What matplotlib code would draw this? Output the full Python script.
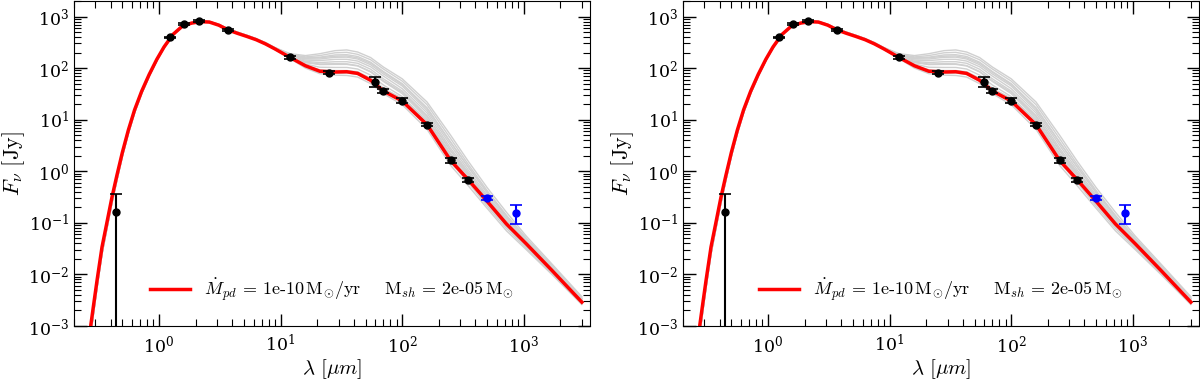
import matplotlib
matplotlib.use("Agg")
import matplotlib.pyplot as plt
from matplotlib.ticker import LogLocator, NullFormatter

plt.rcParams['mathtext.fontset'] = 'cm'
plt.rcParams['font.family'] = ['DejaVu Serif']

# Observed photometry
obs_wl = [0.44, 1.22, 1.6, 2.15, 3.7, 12, 25, 60, 70, 100, 160, 250, 350]
obs_flux = [0.16, 393, 712, 826, 546, 161, 81.5, 54.6, 35.6, 23.4, 8.0, 1.62, 0.685]
obs_err = [0.2, 15, 25, 30, 30, 8, 6, 12, 3, 2.5, 0.6, 0.15, 0.07]
sub_wl = [500, 870]
sub_flux = [0.30, 0.157]
sub_err = [0.025, 0.062]

# Model wavelength grids (short: stellar part, long: dust part)
short_wl = [0.27, 0.29, 0.31, 0.34, 0.37, 0.41, 0.45, 0.5, 0.56, 0.63, 0.72, 0.83,
            0.96, 1.1, 1.3, 1.55, 1.85, 2.2, 2.6, 3.1, 3.7, 4.4, 5.3, 6.3]
long_wl = [7.5, 9, 12, 16, 21, 28, 35, 43, 55, 70, 100, 160, 250, 350, 500, 720,
           1050, 1700, 3000]

# Best-fit model (red)
best_short = [7.6e-4, 0.00258, 0.0079, 0.034, 0.092, 0.31, 0.82, 2.33, 6.3, 15.5, 35.5,
              75, 148, 257, 447, 646, 745, 795, 780, 680, 550, 474, 410, 355]
best_long = [295, 235, 160, 111, 87, 84, 85, 79, 58, 36, 23, 8, 1.62, 0.68, 0.26, 0.095,
             0.039, 0.012, 0.0029]

# Other models of the grid (gray): stellar-part variants
gray_short_a = [5.2e-4, 0.0018, 0.0057, 0.025, 0.07, 0.24, 0.66, 1.95, 5.4, 13.6, 32, 69,
                140, 247, 436, 640, 748, 805, 795, 700, 570, 492, 425, 368]
gray_short_b = [6.5e-4, 0.0022, 0.0069, 0.030, 0.082, 0.28, 0.74, 2.15, 5.9, 14.6, 34, 72,
                144, 252, 442, 644, 748, 802, 790, 692, 562, 485, 418, 362]
gray_short_c = [5.8e-4, 0.002, 0.0063, 0.027, 0.076, 0.26, 0.70, 2.05, 5.65, 14.1, 33, 70.5,
                142, 250, 440, 642, 750, 808, 800, 705, 578, 498, 430, 372]

# dust-part of each gray model
gray_long_1 = [315, 250, 190, 175, 190, 218, 225, 205, 160, 105, 62, 22, 5.0, 1.55, 0.48, 0.16, 0.055, 0.016, 0.0037]
gray_long_2 = [312, 248, 185, 165, 175, 198, 202, 185, 145, 96, 56, 19.5, 4.3, 1.35, 0.42, 0.14, 0.05, 0.015, 0.0035]
gray_long_3 = [310, 245, 180, 158, 163, 180, 182, 168, 130, 86, 50, 17, 3.7, 1.2, 0.38, 0.13, 0.047, 0.014, 0.0034]
gray_long_4 = [308, 243, 176, 150, 150, 162, 163, 150, 116, 77, 45, 15, 3.2, 1.05, 0.34, 0.12, 0.044, 0.0135, 0.0033]
gray_long_5 = [305, 240, 172, 143, 140, 148, 148, 137, 106, 70, 40, 13.5, 2.8, 0.95, 0.31, 0.11, 0.042, 0.013, 0.0032]
gray_long_6 = [303, 238, 168, 135, 128, 133, 133, 124, 95, 62, 36, 12, 2.5, 0.87, 0.29, 0.10, 0.040, 0.0125, 0.0031]
gray_long_7 = [302, 236, 165, 128, 117, 118, 118, 110, 84, 55, 32, 10.5, 2.2, 0.8, 0.27, 0.095, 0.038, 0.012, 0.003]
gray_long_8 = [300, 234, 162, 120, 104, 103, 103, 96, 73, 47, 28, 9.5, 1.95, 0.73, 0.25, 0.09, 0.036, 0.0115, 0.0029]
gray_long_9 = [299, 233, 158, 112, 93, 90, 90, 85, 64, 41, 25, 8.6, 1.75, 0.66, 0.23, 0.085, 0.034, 0.011, 0.0028]
gray_long_10 = [297, 231, 155, 106, 84, 80, 80, 75, 56, 36, 22, 7.6, 1.5, 0.6, 0.21, 0.078, 0.032, 0.0105, 0.0027]
gray_long_11 = [295, 229, 152, 100, 78, 73, 72, 67, 50, 32, 19.5, 6.5, 1.3, 0.52, 0.19, 0.07, 0.030, 0.0100, 0.0026]
gray_long_12 = [298, 232, 158, 110, 90, 86, 86, 80, 62, 40, 26, 9.5, 2.1, 0.85, 0.30, 0.105, 0.041, 0.0125, 0.003]
gray_long_13 = [306, 242, 178, 155, 158, 170, 172, 158, 124, 83, 48, 16.5, 3.6, 1.2, 0.39, 0.135, 0.049, 0.0145, 0.0034]
gray_long_14 = [302, 237, 166, 130, 120, 122, 121, 112, 86, 57, 34, 11.5, 2.5, 0.9, 0.30, 0.105, 0.041, 0.0125, 0.0031]

gray_longs = [gray_long_1, gray_long_2, gray_long_3, gray_long_4, gray_long_5,
              gray_long_6, gray_long_7, gray_long_8, gray_long_9, gray_long_10,
              gray_long_11, gray_long_12, gray_long_13, gray_long_14]
gray_shorts = [gray_short_a, gray_short_b, gray_short_c]

legend_label = (r'$\dot{M}_{pd}\,=\,\mathrm{1e}\text{-}\mathrm{10}\,\mathrm{M}_{\odot}/\mathrm{yr}'
                r'\quad\;\; \mathrm{M}_{sh}\,=\,\mathrm{2e}\text{-}\mathrm{05}\,\mathrm{M}_{\odot}$')

fig = plt.figure(figsize=(12, 3.82), dpi=100)
W, H = 1200.0, 382.0
axes = [fig.add_axes([74 / W, (H - 326) / H, 516 / W, 325 / H]),
        fig.add_axes([683 / W, (H - 326) / H, 516 / W, 325 / H])]

model_wl = short_wl + long_wl
for ax in axes:
    for i, gl in enumerate(gray_longs):
        gs = gray_shorts[i % len(gray_shorts)]
        ax.plot(model_wl, gs + gl, color='#d0d0d0', lw=1.0, zorder=1)
    ax.plot(model_wl, best_short + best_long, color='red', lw=2.5, zorder=3,
            label=legend_label)
    ax.errorbar(obs_wl, obs_flux, yerr=obs_err, fmt='o', color='black', ms=5,
                capsize=4, elinewidth=1.5, capthick=1.2, zorder=4)
    ax.errorbar(sub_wl, sub_flux, yerr=sub_err, fmt='o', color='blue', ms=5,
                capsize=4, elinewidth=1.5, capthick=1.2, zorder=4)
    ax.set_xscale('log')
    ax.set_yscale('log')
    ax.set_xlim(0.2, 3500)
    ax.set_ylim(1e-3, 2e3)
    ax.xaxis.set_minor_locator(LogLocator(base=10, subs=range(2, 10), numticks=20))
    ax.yaxis.set_minor_locator(LogLocator(base=10, subs=range(2, 10), numticks=20))
    ax.xaxis.set_minor_formatter(NullFormatter())
    ax.yaxis.set_minor_formatter(NullFormatter())
    ax.tick_params(which='both', direction='in', top=True, right=True, labelsize=12.5)
    ax.tick_params(which='major', length=9, width=1)
    ax.tick_params(which='minor', length=5, width=0.8)
    ax.tick_params(axis='x', which='major', pad=6)
    ax.set_xlabel(r'$\lambda\ [\mu m]$', fontsize=15, labelpad=1)
    ax.set_ylabel(r'$F_{\nu}\ [\mathrm{Jy}]$', fontsize=16, labelpad=1)
    ax.legend(loc='lower center', bbox_to_anchor=(0.5, 0.02), frameon=False,
              fontsize=13, handlelength=2.2)

fig.savefig('out.png', dpi=100)
